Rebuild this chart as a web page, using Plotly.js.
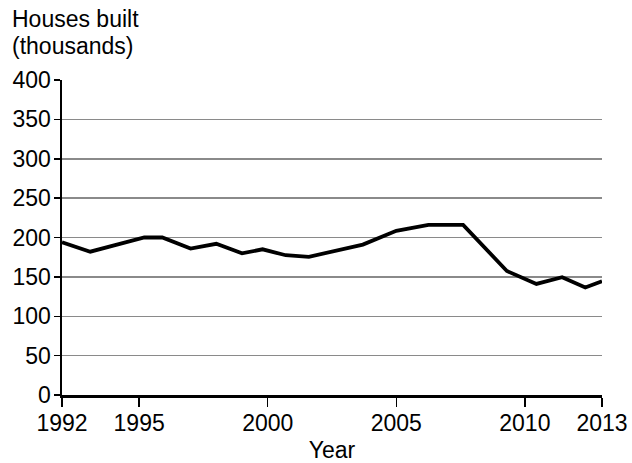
<!DOCTYPE html>
<html>
<head>
<meta charset="utf-8">
<script src="https://cdn.plot.ly/plotly-3.0.1.min.js"></script>
<style>html,body{margin:0;padding:0;background:#fff;}#chart{width:632px;height:463px;}</style>
</head>
<body>
<div id="chart"></div>
<script>
// Data
const years = [1992, 1993.1, 1995.2, 1995.9, 1997, 1998, 1999, 1999.8, 2000.7, 2001.6, 2003.7, 2005, 2006.25, 2007.6, 2009.3, 2010.45, 2011.45, 2012.35, 2013];
const housesBuilt = [194, 182, 200, 200, 186, 192, 180, 185, 177.5, 175.5, 191, 208.5, 216, 216, 157.5, 141, 149.5, 136.5, 144.5];
const xTicks = [1992, 1995, 2000, 2005, 2010, 2013];
const yTicks = [0, 50, 100, 150, 200, 250, 300, 350, 400];

const fontFam = 'Liberation Sans, Arial, sans-serif';
const fs = 23;

const trace = {
  x: years,
  y: housesBuilt,
  type: 'scatter',
  mode: 'lines',
  line: {color: '#000', width: 3.8},
  hoverinfo: 'skip'
};

const layout = {
  width: 632,
  height: 463,
  margin: {l: 62, r: 30, t: 80, b: 68},
  paper_bgcolor: '#fff',
  plot_bgcolor: '#fff',
  showlegend: false,
  font: {family: fontFam, color: '#000', size: fs},
  xaxis: {
    range: [1992, 2013],
    tickvals: xTicks,
    ticktext: xTicks.map(String),
    ticks: 'outside',
    ticklen: 9,
    tickwidth: 1.5,
    tickcolor: '#000',
    ticklabelstandoff: -4,
    showgrid: false,
    zeroline: false,
    showline: true,
    linecolor: '#000',
    linewidth: 3,
    tickfont: {size: fs, family: fontFam},
    title: {text: 'Year', font: {size: fs, family: fontFam}, standoff: 8}
  },
  yaxis: {
    range: [0, 400],
    tickvals: yTicks,
    ticktext: yTicks.map(String),
    ticks: 'outside',
    ticklen: 6,
    tickwidth: 1.5,
    tickcolor: '#000',
    ticklabelstandoff: -2,
    showgrid: true,
    gridcolor: '#8a8a8a',
    gridwidth: 1.5,
    zeroline: false,
    showline: true,
    linecolor: '#000',
    linewidth: 2.5,
    tickfont: {size: fs, family: fontFam}
  },
  annotations: [
    {
      xref: 'paper', yref: 'paper',
      x: -52/540, y: (395 - 19) / 315,
      xanchor: 'left', yanchor: 'middle',
      showarrow: false,
      text: 'Houses built',
      font: {size: fs, family: fontFam, color: '#000'}
    },
    {
      xref: 'paper', yref: 'paper',
      x: -52/540, y: (395 - 46) / 315,
      xanchor: 'left', yanchor: 'middle',
      showarrow: false,
      text: '(thousands)',
      font: {size: fs, family: fontFam, color: '#000'}
    }
  ]
};

Plotly.newPlot('chart', [trace], layout, {displayModeBar: false, staticPlot: true});
</script>
</body>
</html>
